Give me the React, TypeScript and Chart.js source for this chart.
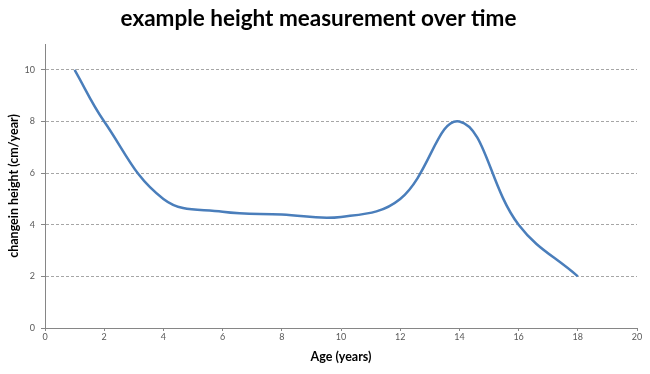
import React, { useEffect, useRef } from "react";
import { Chart, registerables } from "chart.js";

Chart.register(...registerables);

const ages = [1, 2, 4, 6, 8, 10, 12, 14, 16, 18];
const heightChange = [10, 8, 5, 4.5, 4.4, 4.3, 5, 8, 4, 2];
const xTicks = [0, 2, 4, 6, 8, 10, 12, 14, 16, 18, 20];
const yTicks = [0, 2, 4, 6, 8, 10];

const titleText = "example height measurement over time";
const xTitle = "Age (years)";
const yTitle = "changein height (cm/year)";

export default function App() {
  const ref = useRef<HTMLCanvasElement | null>(null);
  useEffect(() => {
    if (!ref.current) return;
    const chart = new Chart(ref.current, {
      type: "line",
      data: {
        datasets: [
          {
            data: ages.map((a, i) => ({ x: a, y: heightChange[i] })),
            borderColor: "#4A7EBB",
            borderWidth: 2.5,
            pointRadius: 0,
            tension: 0.4,
            fill: false,
          },
        ],
      },
      options: {
        animation: false,
        responsive: true,
        maintainAspectRatio: false,
        layout: { padding: { left: 0, right: 13, top: 0, bottom: 0 } },
        plugins: {
          legend: { display: false },
          tooltip: { enabled: false },
          title: {
            display: true,
            text: titleText,
            color: "#000",
            font: { family: "Lato", size: 22.5, weight: "bold" },
            padding: { top: 5, bottom: 12 },
          },
        },
        scales: {
          x: {
            type: "linear",
            min: 0,
            max: 20,
            afterBuildTicks: (s: any) => {
              s.ticks = xTicks.map((v) => ({ value: v }));
            },
            afterFit: (s: any) => {
              s.height = 46;
            },
            ticks: {
              color: "#595959",
              font: { family: "Lato", size: 9 },
              padding: 1,
              maxRotation: 0,
            },
            grid: {
              drawOnChartArea: false,
              tickLength: 3,
              tickColor: "#868686",
            },
            border: { color: "#868686", width: 1 },
            title: {
              display: true,
              text: xTitle,
              color: "#000",
              font: { family: "Lato", size: 12.5, weight: "bold" },
              padding: { top: 0, bottom: 10 },
            },
          },
          y: {
            type: "linear",
            min: 0,
            max: 11,
            afterBuildTicks: (s: any) => {
              s.ticks = yTicks.map((v) => ({ value: v }));
            },
            afterFit: (s: any) => {
              s.width = 45;
            },
            ticks: {
              color: "#595959",
              font: { family: "Lato", size: 9 },
              padding: 6,
            },
            grid: {
              color: (ctx: any) => (ctx.tick && ctx.tick.value === 0 ? "rgba(0,0,0,0)" : "#A6A6A6"),
              tickLength: 4,
              tickColor: "#868686",
              lineWidth: 1,
            },
            border: { color: "#868686", width: 1, dash: [3, 2] },
            title: {
              display: true,
              text: yTitle,
              color: "#000",
              font: { family: "Lato", size: 12.5, weight: "bold" },
              padding: { top: 6, bottom: 4 },
            },
          },
        },
      },
    });
    return () => chart.destroy();
  }, []);
  return (
    <div style={{ position: "absolute", left: 0, top: 0, width: 650, height: 374, background: "#fff" }}>
      <canvas ref={ref} />
    </div>
  );
}
